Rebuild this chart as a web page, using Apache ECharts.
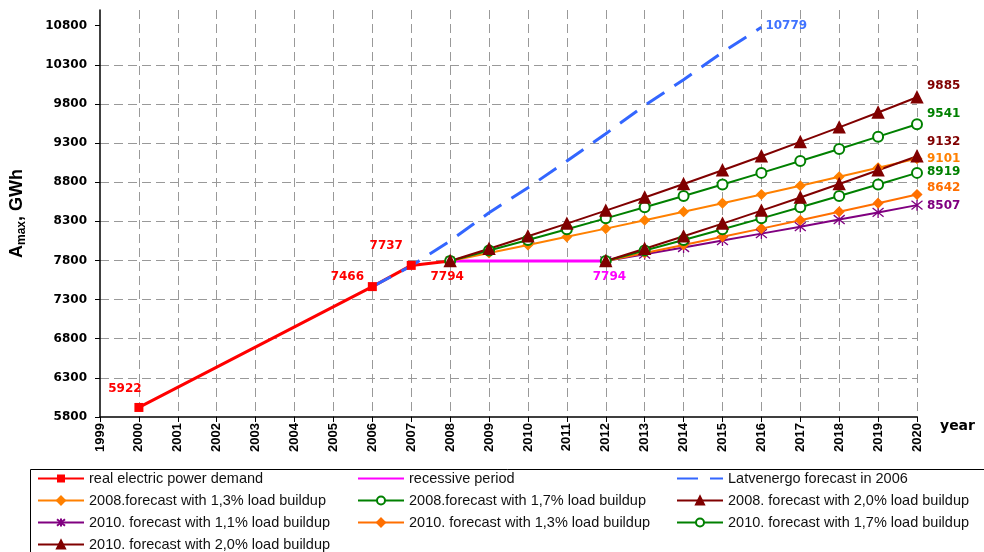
<!DOCTYPE html>
<html>
<head>
<meta charset="utf-8">
<title>Amax forecast</title>
<script src="https://cdn.jsdelivr.net/npm/echarts@6/dist/echarts.min.js"></script>
<style>
  html, body { margin: 0; padding: 0; background: #fff; }
  #chart { width: 984px; height: 552px; }
</style>
</head>
<body>
<div id="chart"></div>
<script>
const yTicks = [5800, 6300, 6800, 7300, 7800, 8300, 8800, 9300, 9800, 10300, 10800];

const realYears = [2000, 2006, 2007, 2008];
const realValues = [5922, 7466, 7737, 7794];

const recessYears = [2008, 2012];
const recessValues = [7794, 7794];

const lvYears = [2006, 2007, 2008, 2009, 2010, 2011, 2012, 2013, 2014, 2015, 2016];
const lvValues = [7466, 7730, 8050, 8410, 8730, 9070, 9420, 9780, 10110, 10460, 10779];

const years2008 = [2008, 2009, 2010, 2011, 2012, 2013, 2014, 2015, 2016, 2017, 2018, 2019, 2020];
const f2008_13 = [7794, 7895, 7998, 8102, 8207, 8314, 8422, 8532, 8642, 8755, 8869, 8984, 9101];
const f2008_17 = [7794, 7927, 8061, 8198, 8338, 8479, 8624, 8770, 8919, 9071, 9225, 9382, 9541];
const f2008_20 = [7794, 7950, 8109, 8271, 8437, 8605, 8777, 8953, 9132, 9315, 9501, 9691, 9885];

const years2010 = [2012, 2013, 2014, 2015, 2016, 2017, 2018, 2019, 2020];
const f2010_11 = [7794, 7880, 7966, 8054, 8143, 8232, 8323, 8414, 8507];
const f2010_13 = [7794, 7895, 7998, 8102, 8207, 8314, 8422, 8532, 8642];
const f2010_17 = [7794, 7927, 8061, 8198, 8338, 8479, 8624, 8770, 8919];
const f2010_20 = [7794, 7950, 8109, 8271, 8437, 8605, 8777, 8953, 9132];

const labelFont = { fontFamily: 'DejaVu Sans', fontWeight: 'bold', fontSize: 12 };
const realLabelOffsets = [[-14, -19], [-25, -10], [-25, -20], [-3, 16]];
const star = 'path://M5,0L5,10M1,1L9,9M1,9L9,1';

function pairs(xs, ys) {
  return xs.map((x, i) => [x, ys[i]]);
}

function forecast(name, xs, ys, color, symbol, size, labelDy) {
  return {
    name: name,
    type: 'line',
    data: pairs(xs, ys),
    symbol: symbol,
    symbolSize: size,
    lineStyle: { color: color, width: 2 },
    itemStyle: { color: color, borderColor: color, borderWidth: symbol === star ? 1.3 : 1.5 },
    endLabel: {
      show: true,
      formatter: p => p.value[1],
      color: color,
      distance: 10,
      offset: [0, labelDy],
      ...labelFont
    }
  };
}

const chart = echarts.init(document.getElementById('chart'));

const legendText = { fontFamily: 'Liberation Sans', fontSize: 14.5, color: '#111', lineHeight: 14 };
const legendBase = {
  orient: 'vertical',
  top: 471,
  height: 120,
  padding: 0,
  itemWidth: 46,
  itemHeight: 10,
  itemGap: 7,
  textStyle: legendText
};
// lines without markers: hide the symbol the legend would add
const noMark = { opacity: 0 };

chart.setOption({
  animation: false,
  backgroundColor: '#fff',
  grid: { left: 100, right: 67, top: 10, bottom: 135 },
  legend: [
    Object.assign({ left: 37, data: ['real electric power demand', '2008.forecast with 1,3% load buildup',
      '2010. forecast with 1,1% load buildup', '2010. forecast with 2,0% load buildup'] }, legendBase),
    Object.assign({ left: 357, data: [{ name: 'recessive period', itemStyle: noMark }, '2008.forecast with 1,7% load buildup',
      '2010. forecast with 1,3% load buildup'] }, legendBase),
    Object.assign({ left: 676, data: [{ name: 'Latvenergo forecast in 2006', itemStyle: noMark }, '2008. forecast with 2,0% load buildup',
      '2010. forecast with 1,7% load buildup'] }, legendBase)
  ],
  graphic: [{
    type: 'rect',
    shape: { x: 30.5, y: 469.5, width: 980, height: 100 },
    style: { fill: 'none', stroke: '#000', lineWidth: 1 },
    silent: true
  }],
  xAxis: {
    type: 'value',
    min: 1999,
    max: 2020,
    interval: 1,
    name: 'year',
    nameLocation: 'end',
    nameGap: 23,
    nameTextStyle: { fontFamily: 'DejaVu Sans', fontWeight: 'bold', fontSize: 14, color: '#000',
      verticalAlign: 'top', padding: [2, 0, 0, 0] },
    axisLine: { lineStyle: { color: '#000', width: 1.5 } },
    axisTick: { length: 5, lineStyle: { color: '#000' } },
    axisLabel: { rotate: 90, margin: 6, color: '#000', fontFamily: 'Liberation Sans', fontWeight: 'bold', fontSize: 13,
      formatter: v => String(v) },
    splitLine: { show: true, showMinLine: false, lineStyle: { color: '#999', width: 1, type: [9, 5] } }
  },
  yAxis: {
    type: 'value',
    min: 5800,
    max: 11000,
    interval: 500,
    name: '{a|A}{s|max}{a|, GWh}',
    nameLocation: 'middle',
    nameRotate: 90,
    nameGap: 72,
    nameTextStyle: {
      rich: {
        a: { fontFamily: 'Liberation Sans', fontWeight: 'bold', fontSize: 18, color: '#000', lineHeight: 22 },
        s: { fontFamily: 'Liberation Sans', fontWeight: 'bold', fontSize: 12, color: '#000', verticalAlign: 'bottom', lineHeight: 22 }
      }
    },
    axisLine: { show: true, lineStyle: { color: '#000', width: 1.5 } },
    axisTick: { show: true, length: 5, customValues: yTicks, lineStyle: { color: '#000' } },
    axisLabel: { customValues: yTicks, margin: 13, color: '#000', formatter: v => String(v), ...labelFont },
    splitLine: { show: true, showMinLine: false, showMaxLine: false, lineStyle: { color: '#999', width: 1, type: [9, 5] } }
  },
  series: [
    {
      name: 'real electric power demand',
      type: 'line',
      data: realYears.map((x, i) => ({
        value: [x, realValues[i]],
        label: { show: true, position: 'inside', offset: realLabelOffsets[i] }
      })),
      symbol: 'rect',
      symbolSize: 9,
      lineStyle: { color: '#ff0000', width: 3 },
      itemStyle: { color: '#ff0000' },
      label: { formatter: p => p.value[1], color: '#ff0000', ...labelFont }
    },
    {
      name: 'recessive period',
      type: 'line',
      data: pairs(recessYears, recessValues),
      symbol: 'none',
      lineStyle: { color: '#ff00ff', width: 3 },
      itemStyle: { color: '#ff00ff' },
      endLabel: { show: true, formatter: p => p.value[1], color: '#ff00ff', distance: 5, offset: [-18, 16], ...labelFont }
    },
    {
      name: 'Latvenergo forecast in 2006',
      type: 'line',
      data: pairs(lvYears, lvValues),
      symbol: 'none',
      lineStyle: { color: '#3366ff', width: 3, type: [21, 12] },
      itemStyle: { color: '#3366ff' },
      endLabel: { show: true, formatter: p => p.value[1], color: '#4073ff', distance: 4, offset: [0, -1], ...labelFont }
    },
    forecast('2008.forecast with 1,3% load buildup', years2008, f2008_13, '#ff8000', 'diamond', 9, 0),
    forecast('2008.forecast with 1,7% load buildup', years2008, f2008_17, '#008000', 'emptyCircle', 10, -10),
    forecast('2008. forecast with 2,0% load buildup', years2008, f2008_20, '#800000', 'triangle', 11, -11),
    forecast('2010. forecast with 1,1% load buildup', years2010, f2010_11, '#800080', star, 11, 1),
    forecast('2010. forecast with 1,3% load buildup', years2010, f2010_13, '#ff6f00', 'diamond', 9, -7),
    forecast('2010. forecast with 1,7% load buildup', years2010, f2010_17, '#008000', 'emptyCircle', 10, -1),
    forecast('2010. forecast with 2,0% load buildup', years2010, f2010_20, '#800000', 'triangle', 11, -14)
  ]
});
</script>
</body>
</html>
